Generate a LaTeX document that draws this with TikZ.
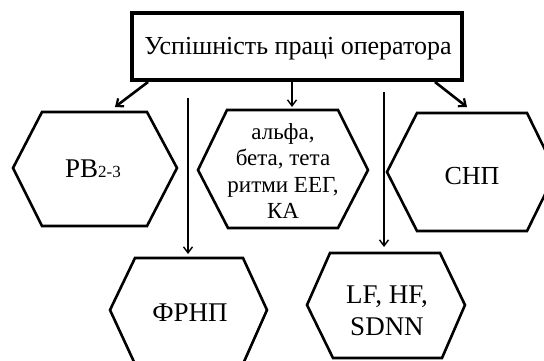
\documentclass[tikz,border=0pt]{standalone}
\usepackage{fontspec}
\setmainfont{Liberation Serif}
\usetikzlibrary{arrows.meta}
\tikzset{
  hexa/.style={draw=black, line width=2.6pt, line join=miter},
  txt/.style={font=\fontsize{27}{32}\selectfont, align=center, inner sep=0pt},
  arr/.style={line width=1.4pt, -{Straight Barb[length=6pt,width=9pt,line width=1.4pt]}},
  arrthick/.style={line width=2.6pt, -{Straight Barb[length=6pt,width=10pt,line width=2.2pt]}},
}
\begin{document}
\begin{tikzpicture}[x=1pt,y=-1pt]
\useasboundingbox (0,0) rectangle (544,361);
\clip (0,0) rectangle (544,361);
\fill[white] (0,0) rectangle (544,361);
% title box
\draw[line width=3.2pt] (132,13) rectangle (462,80);
\node[txt, font=\fontsize{26}{31}\selectfont] (title) at (298,49) {Успішність праці оператора};
% hexagons
\draw[hexa] (13,168) -- (42,112) -- (147,112) -- (177,168) -- (147,226) -- (42,226) -- cycle;
\node[txt] (rb) at (93,169) {PB{\fontsize{17}{20}\selectfont 2-3}};
\draw[hexa] (198,170) -- (227,110) -- (338,110) -- (368,170) -- (338,228) -- (228,228) -- cycle;
\node[txt, font=\fontsize{23}{26.5}\selectfont] (alpha) at (283,171) {альфа,\\бета, тета\\ритми ЕЕГ,\\КА};
\draw[hexa] (387,172) -- (417,113) -- (527,113) -- (556,172) -- (527,231) -- (417,231) -- cycle;
\node[txt, font=\fontsize{26}{30}\selectfont] (snp) at (472,176) {СНП};
\draw[hexa] (110,310) -- (135,258) -- (243,258) -- (267,310) -- (243,364) -- (135,364) -- cycle;
\node[txt] (frnp) at (190,313) {ФРНП};
\draw[hexa] (307,305) -- (330,253) -- (440,253) -- (465,305) -- (442,358) -- (333,358) -- cycle;
\node[txt, font=\fontsize{27}{32}\selectfont] (lf) at (387,311) {LF, HF,\\SDNN};
% connectors
\coordinate (a1s) at (148,82); \coordinate (a1e) at (115,107);
\coordinate (a2s) at (292,82); \coordinate (a2e) at (292,107);
\coordinate (a3s) at (435,82); \coordinate (a3e) at (467,107);
\coordinate (v1s) at (188,98); \coordinate (v1e) at (188,254);
\coordinate (v2s) at (384,92); \coordinate (v2e) at (384,247);
\draw[arrthick] (a1s) -- (a1e);
\draw[arr, line width=1.8pt] (a2s) -- (a2e);
\draw[arrthick] (a3s) -- (a3e);
\draw[arr] (v1s) -- (v1e);
\draw[arr, line width=2.2pt] (v2s) -- (v2e);
\end{tikzpicture}
\end{document}
